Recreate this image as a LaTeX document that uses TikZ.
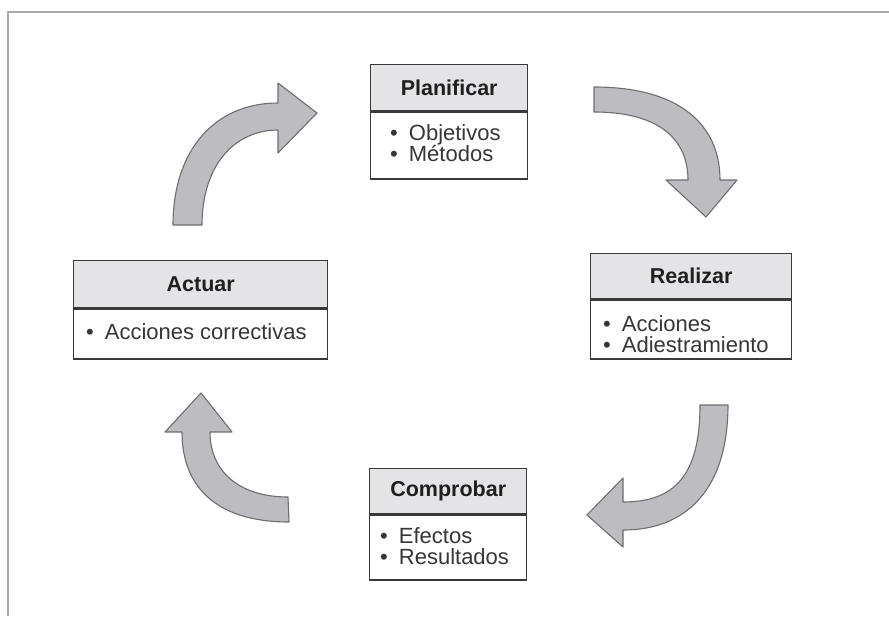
\documentclass[tikz,border=0pt]{standalone}
\usepackage{fontspec}
\setmainfont{Liberation Sans}
\begin{document}
\definecolor{frame}{HTML}{AAAAAA}
\definecolor{boxline}{HTML}{3A3A3A}
\definecolor{hdrfill}{HTML}{E4E4E6}
\definecolor{arrfill}{HTML}{BDBDC1}
\definecolor{arrline}{HTML}{6E6E6E}
\definecolor{bodytext}{HTML}{363636}
\newcommand{\bul}{\textbullet\hspace{0.5em}}
\begin{tikzpicture}[x=1pt,y=-1pt,
  hdr/.style={draw=boxline, line width=1.4pt, fill=hdrfill, anchor=north west,
    inner sep=0pt, font=\fontsize{21.5}{21.5}\selectfont\bfseries, text=black!88},
  bodybox/.style={draw=boxline, line width=1.4pt, fill=white, anchor=north west, inner sep=0pt},
  item/.style={anchor=base west, inner sep=0pt, text=bodytext,
    font=\fontsize{22}{22}\selectfont},
  blockarrow/.style={draw=arrline, line width=1.1pt, fill=arrfill, line join=round}]
\useasboundingbox (0,0) rectangle (889,616);
\fill[white] (0,0) rectangle (889,616);

% outer frame (top and left edges)
\draw[frame, line width=2pt] (8,616) -- (8,12) -- (889,12);

% Planificar
\node[hdr, minimum width=157, minimum height=46] (plan) at (370,64) {Planificar};
\node[bodybox, minimum width=157, minimum height=67] (planb) at (plan.south west) {};
\node[item] (plan1) at (390,140) {\bul Objetivos};
\node[item] (plan2) at (390,161) {\bul Métodos};

% Realizar
\node[hdr, minimum width=201, minimum height=45] (real) at (590,253) {Realizar};
\node[bodybox, minimum width=201, minimum height=59] (realb) at (real.south west) {};
\node[item] (real1) at (603,331) {\bul Acciones};
\node[item] (real2) at (603,352) {\bul Adiestramiento};

% Comprobar
\node[hdr, minimum width=157, minimum height=45] (comp) at (369,468) {Comprobar};
\node[bodybox, minimum width=157, minimum height=65] (compb) at (comp.south west) {};
\node[item] (comp1) at (380,543) {\bul Efectos};
\node[item] (comp2) at (380,564) {\bul Resultados};

% Actuar
\node[hdr, minimum width=254, minimum height=47] (act) at (73,260) {Actuar};
\node[bodybox, minimum width=254, minimum height=50] (actb) at (act.south west) {};
\node[item] (act1) at (86,339) {\bul Acciones correctivas};

% curved block arrows of the cycle
% Actuar -> Planificar
\draw[blockarrow] (173,225) .. controls (173,150) and (215,103) .. (278,103)
  -- (278,83) -- (317,113) -- (278,153) -- (278,130)
  .. controls (235,130) and (202,165) .. (202,225) -- cycle;
% Planificar -> Realizar
\draw[blockarrow] (594,87) .. controls (680,87) and (720,125) .. (720,180)
  -- (737,180) -- (706,217) -- (666,180) -- (688,180)
  .. controls (688,140) and (660,112) .. (594,112) -- cycle;
% Realizar -> Comprobar
\draw[blockarrow] (700,405) -- (728,405) .. controls (728,485) and (690,530) .. (623,530)
  -- (623,547) -- (587,515) -- (623,478) -- (623,502)
  .. controls (675,502) and (700,475) .. (700,405) -- cycle;
% Comprobar -> Actuar
\draw[blockarrow] (288,497) -- (289,522) .. controls (220,522) and (182,490) .. (182,432)
  -- (165,432) -- (201,393) -- (232,432) -- (210,432)
  .. controls (210,472) and (240,497) .. (288,497) -- cycle;
\end{tikzpicture}
\end{document}
